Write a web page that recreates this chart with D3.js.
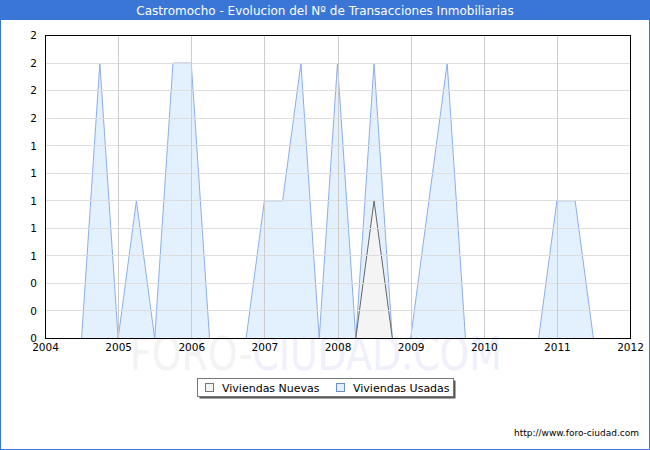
<!DOCTYPE html>
<html>
<head>
<meta charset="utf-8">
<script src="https://cdn.jsdelivr.net/npm/d3@7"></script>
<style>
  body { margin: 0; background: #fff; }
  svg { display: block; font-family: "DejaVu Sans", sans-serif; }
</style>
</head>
<body>
<div class="chart"></div>
<script>
// quarterly values
var quarters = [2004, 2004.25, 2004.5, 2004.75, 2005, 2005.25, 2005.5, 2005.75,
                2006, 2006.25, 2006.5, 2006.75, 2007, 2007.25, 2007.5, 2007.75,
                2008, 2008.25, 2008.5, 2008.75, 2009, 2009.25, 2009.5, 2009.75,
                2010, 2010.25, 2010.5, 2010.75, 2011, 2011.25, 2011.5, 2011.75];
var usadas = [0, 0, 0, 2, 0, 1, 0, 2,
              2, 0, 0, 0, 1, 1, 2, 0,
              2, 0, 2, 0, 0, 1, 2, 0,
              0, 0, 0, 0, 1, 1, 0, 0];
var nuevas = [0, 0, 0, 0, 0, 0, 0, 0,
              0, 0, 0, 0, 0, 0, 0, 0,
              0, 0, 1, 0, 0, 0, 0, 0,
              0, 0, 0, 0, 0, 0, 0, 0];
var yearTicks = [2004, 2005, 2006, 2007, 2008, 2009, 2010, 2011, 2012];
var yTicks = d3.range(12).map(function(i) { return i * 0.2; });
var seriesNames = ["Viviendas Nuevas", "Viviendas Usadas"];

var W = 650, H = 450;
var margin = {top: 35, right: 20, bottom: 112, left: 45},
    width = W - margin.left - margin.right,
    height = H - margin.top - margin.bottom;

var svg = d3.select(".chart").append("svg")
    .attr("width", W)
    .attr("height", H);

// frame + title bar
svg.append("rect").attr("x", 0.5).attr("y", 0.5).attr("width", W - 1).attr("height", H - 1)
    .attr("fill", "#fff").attr("stroke", "#3a76d6");
svg.append("rect").attr("x", 0).attr("y", 0).attr("width", W).attr("height", 20)
    .attr("fill", "#3a76d6");
svg.append("text")
    .attr("x", W / 2).attr("y", 14.5)
    .attr("text-anchor", "middle")
    .attr("fill", "#fff")
    .style("font-size", "12px")
    .text("Castromocho - Evolucion del Nº de Transacciones Inmobiliarias");

// watermark
var wm = svg.append("text")
    .attr("x", 130).attr("y", 370)
    .attr("textLength", 372)
    .attr("lengthAdjust", "spacingAndGlyphs")
    .style("font-size", "46px");
wm.append("tspan").attr("fill", "#f3f3f3").text("FORO-");
wm.append("tspan").attr("fill", "#f0f0fc").text("CIUDAD.COM");

var g = svg.append("g")
    .attr("transform", "translate(" + margin.left + "," + margin.top + ")");

var xScale = d3.scaleLinear().domain([2004, 2012]).range([0, width]);
var yScale = d3.scaleLinear().domain([0, 2.2]).range([height + 0.5, 0.5]);

var dataU = quarters.map(function(q, i) { return {x: q, y: usadas[i]}; });
var dataN = quarters.map(function(q, i) { return {x: q, y: nuevas[i]}; });

var area = d3.area()
    .x(function(d) { return xScale(d.x); })
    .y0(yScale(0))
    .y1(function(d) { return yScale(d.y); });
var line = d3.line()
    .x(function(d) { return xScale(d.x); })
    .y(function(d) { return yScale(d.y); });

g.append("path").datum(dataU).attr("d", area).attr("fill", "#e3f0fd");
g.append("path").datum(dataU).attr("d", line).attr("fill", "none")
    .attr("stroke", "#8daee8").attr("stroke-width", 1);
g.append("path").datum(dataN).attr("d", area).attr("fill", "#f4f4f4");
g.append("path").datum(dataN).attr("d", line).attr("fill", "none")
    .attr("stroke", "#666").attr("stroke-width", 1);

// grid
g.selectAll(".hgrid").data(yTicks.slice(1))
  .enter().append("line")
    .attr("class", "hgrid")
    .attr("x1", 0).attr("x2", width)
    .attr("y1", function(d) { return Math.floor(yScale(d)) + 0.5; })
    .attr("y2", function(d) { return Math.floor(yScale(d)) + 0.5; })
    .attr("stroke", "#dddddd");
g.selectAll(".vgrid").data(yearTicks.slice(1, -1))
  .enter().append("line")
    .attr("class", "vgrid")
    .attr("y1", 0).attr("y2", height)
    .attr("x1", function(d) { return Math.round(xScale(d)) + 0.5; })
    .attr("x2", function(d) { return Math.round(xScale(d)) + 0.5; })
    .attr("stroke", "#cccccc");

g.append("rect")
    .attr("x", 0.5).attr("y", 0.5).attr("width", width).attr("height", height)
    .attr("fill", "none").attr("stroke", "#000");

// axes
var xAxis = d3.axisBottom(xScale).tickValues(yearTicks).tickSize(0).tickPadding(6)
    .tickFormat(d3.format("d"));
var yAxis = d3.axisLeft(yScale).tickValues(yTicks).tickSize(0).tickPadding(8)
    .tickFormat(d3.format(".0f"));

g.append("g").attr("transform", "translate(0," + height + ")").call(xAxis)
    .call(function(a) { a.select(".domain").remove(); })
    .selectAll("text").style("font-size", "10.5px").attr("fill", "#000")
    .style("font-family", "DejaVu Sans");
g.append("g").call(yAxis)
    .call(function(a) { a.select(".domain").remove(); })
    .selectAll("text").style("font-size", "10.5px").attr("fill", "#000")
    .style("font-family", "DejaVu Sans");

// legend
var lg = svg.append("g").attr("transform", "translate(197,378)");
lg.append("rect").attr("x", 2.5).attr("y", 2.5).attr("width", 256).attr("height", 18).attr("fill", "#555");
lg.append("rect").attr("x", 0.5).attr("y", 0.5).attr("width", 256).attr("height", 18)
    .attr("fill", "#fff").attr("stroke", "#777");
var legendX = [8, 139];
var legendFill = ["#f4f4f4", "#e3f0fd"];
var legendStroke = ["#777", "#6e8fcf"];
seriesNames.forEach(function(name, i) {
  lg.append("rect").attr("x", legendX[i] + 0.5).attr("y", 5.5).attr("width", 8).attr("height", 8)
      .attr("fill", legendFill[i]).attr("stroke", legendStroke[i]);
  lg.append("text").attr("x", legendX[i] + 17).attr("y", 13.5)
      .style("font-size", "11px").attr("fill", "#000").text(name);
});

svg.append("text")
    .attr("x", 639).attr("y", 436)
    .attr("text-anchor", "end")
    .style("font-size", "9px")
    .attr("fill", "#000")
    .text("http://www.foro-ciudad.com");
</script>
</body>
</html>
